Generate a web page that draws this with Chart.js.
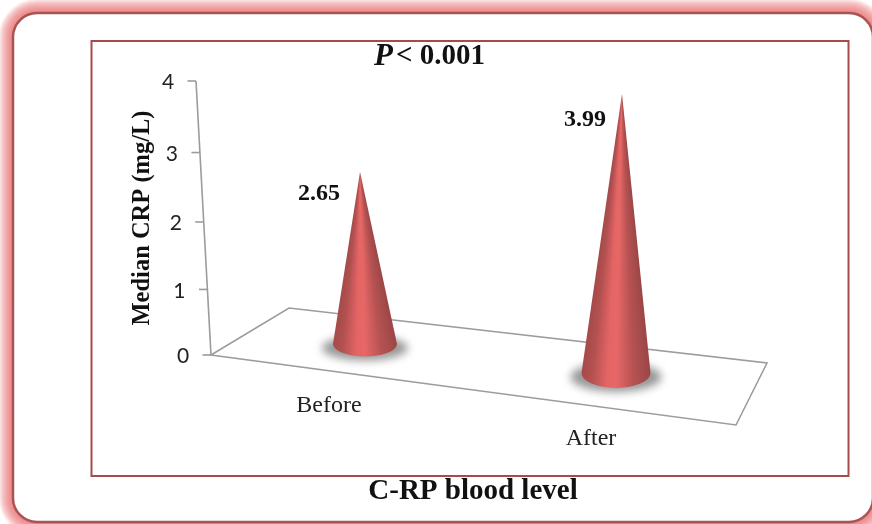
<!DOCTYPE html>
<html>
<head>
<meta charset="utf-8">
<title>Median CRP</title>
<style>
  html, body { margin: 0; padding: 0; background: #fff; overflow: hidden; }
  canvas { display: block; }
</style>
<script src="https://cdn.jsdelivr.net/npm/chart.js@4"></script>
</head>
<body>
<canvas id="myChart" width="872" height="524"></canvas>
<script>
var categories = ['Before', 'After'];
var medianCrp = [2.65, 3.99];
var valueLabels = ['2.65', '3.99'];
var yTicks = [0, 1, 2, 3, 4];

var yTitle = 'Median CRP (mg/L)';
var xTitle = 'C-RP blood level';

var serif = '"Liberation Serif", serif';

// perspective of the y axis: ticks get closer together lower down
function warp(scale, value) {
    var d = (scale.bottom - scale.getPixelForValue(value)) / (scale.bottom - scale.top);
    d = d / (d + (1 - d) * 1.06);
    return d;
}

function cone(ctx, x, y, value) {
    var y0 = y.bottom;
    var h0 = warp(y, value) * (y.bottom - y.top);
    var baseY = y0 - 11 + (x - 365) * 0.1155;
    var rx = 32 + (x - 365) * 0.01;
    var ry = 12.5 + (x - 365) * 0.01;
    var h = h0 * (0.967 + (x - 365) * 0.000215);
    var tipX = x + h * (x - 509) * 0.000201;
    var tipY = baseY - h;

    // floor shadow
    ctx.save();
    ctx.filter = 'blur(4px)';
    ctx.fillStyle = '#979797';
    ctx.beginPath();
    ctx.ellipse(x, baseY + 4, rx + 11, ry, 0, 0, Math.PI * 2);
    ctx.fill();
    ctx.restore();

    // cone body, shaded by angle around the tip
    var right = Math.atan2(baseY - tipY, x + rx - tipX);
    var left = Math.atan2(baseY - tipY, x - rx - tipX);
    var g = ctx.createConicGradient(right, tipX, tipY);
    var span = (left - right) / (Math.PI * 2);
    g.addColorStop(0, '#9a4646');
    g.addColorStop(span * 0.25, '#b65252');
    g.addColorStop(span * 0.5, '#e76767');
    g.addColorStop(span * 0.62, '#e56565');
    g.addColorStop(span * 0.85, '#b35050');
    g.addColorStop(span, '#a54a4a');
    g.addColorStop(Math.min(span + 0.02, 1), '#a54a4a');
    ctx.fillStyle = g;
    ctx.beginPath();
    ctx.moveTo(tipX, tipY);
    ctx.lineTo(x + rx, baseY);
    ctx.ellipse(x, baseY, rx, ry, 0, 0, Math.PI);
    ctx.closePath();
    ctx.fill();

    return { tipX: tipX, tipY: tipY, baseY: baseY };
}

var cones3d = {
    id: 'cones3d',
    beforeDraw: function(chart) {
        var ctx = chart.ctx;
        ctx.save();
        ctx.fillStyle = '#fff';
        ctx.fillRect(0, 0, 872, 524);

        // outer rounded frame, glow built from wide faint strokes
        ctx.strokeStyle = 'rgba(232,105,105,0.1)';
        for (var w = 28; w > 2; w -= 2) {
            ctx.lineWidth = w;
            ctx.beginPath();
            ctx.roundRect(13, 13, 860, 509, 24);
            ctx.stroke();
        }
        ctx.fillStyle = '#fff';
        ctx.strokeStyle = '#a95353';
        ctx.lineWidth = 2.5;
        ctx.beginPath();
        ctx.roundRect(13, 13, 860, 509, 24);
        ctx.fill();
        ctx.stroke();

        // inner border
        ctx.strokeStyle = '#a94a4a';
        ctx.lineWidth = 2;
        ctx.strokeRect(91.5, 41, 757, 435);
        ctx.restore();
    },
    afterDatasetsDraw: function(chart) {
        var ctx = chart.ctx;
        var y = chart.scales.y;
        var meta = chart.getDatasetMeta(0);

        ctx.save();

        // floor
        ctx.strokeStyle = '#9c9c9c';
        ctx.lineWidth = 1.6;
        ctx.beginPath();
        ctx.moveTo(211, y.bottom);
        ctx.lineTo(289, 308);
        ctx.lineTo(767, 363);
        ctx.lineTo(736, 425);
        ctx.closePath();
        ctx.stroke();

        // slanted value axis with ticks and labels
        ctx.beginPath();
        ctx.moveTo(211, y.bottom);
        ctx.lineTo(196, y.top);
        ctx.stroke();
        ctx.textAlign = 'center';
        ctx.textBaseline = 'middle';
        ctx.font = '21px Lato, sans-serif';
        yTicks.forEach(function(t) {
            var d = warp(y, t);
            var py = y.bottom - d * (y.bottom - y.top);
            var px = 211 - 15 * d;
            ctx.strokeStyle = '#9c9c9c';
            ctx.beginPath();
            ctx.moveTo(px - 8.5, py);
            ctx.lineTo(px, py);
            ctx.stroke();
            ctx.fillStyle = '#222';
            ctx.fillText(String(t), px - 28, py + 1.5);
        });

        // cones + labels
        meta.data.forEach(function(bar, i) {
            var c = cone(ctx, bar.x, y, medianCrp[i]);
            ctx.fillStyle = '#111';
            ctx.textAlign = 'right';
            ctx.font = 'bold 24px ' + serif;
            ctx.fillText(valueLabels[i], c.tipX - 20 + i * 4, c.tipY + 22 + i * 4);

            ctx.fillStyle = '#222';
            ctx.textAlign = 'center';
            ctx.font = '24px ' + serif;
            ctx.fillText(categories[i], bar.x - 36 + i * 11, c.baseY + 62 + i * 4);
        });

        // titles
        ctx.fillStyle = '#111';
        ctx.font = 'bold 29px ' + serif;
        ctx.textAlign = 'center';
        ctx.fillText(xTitle, 473, 492);

        ctx.textAlign = 'left';
        ctx.font = 'italic bold 31px ' + serif;
        ctx.fillText('P', 374, 57);
        var pw = ctx.measureText('P').width;
        ctx.font = 'bold 29px ' + serif;
        ctx.fillText('< 0.001', 374 + pw + 3, 57);

        ctx.save();
        ctx.translate(143, 218);
        ctx.rotate(-Math.PI / 2);
        ctx.textAlign = 'center';
        ctx.font = 'bold 24.5px ' + serif;
        ctx.fillText(yTitle, 0, 0);
        ctx.restore();

        ctx.restore();
    }
};

var myChart = new Chart(document.getElementById('myChart'), {
    type: 'bar',
    data: {
        labels: categories,
        datasets: [{
            data: medianCrp,
            backgroundColor: 'rgba(0,0,0,0)',
            borderWidth: 0
        }]
    },
    options: {
        responsive: false,
        animation: false,
        layout: {
            padding: { left: 239.5, right: 130.5, top: 81, bottom: 169 }
        },
        plugins: {
            legend: { display: false },
            tooltip: { enabled: false },
            title: { display: false }
        },
        scales: {
            x: { display: false },
            y: { display: false, min: 0, max: 4 }
        }
    },
    plugins: [cones3d]
});
</script>
</body>
</html>
